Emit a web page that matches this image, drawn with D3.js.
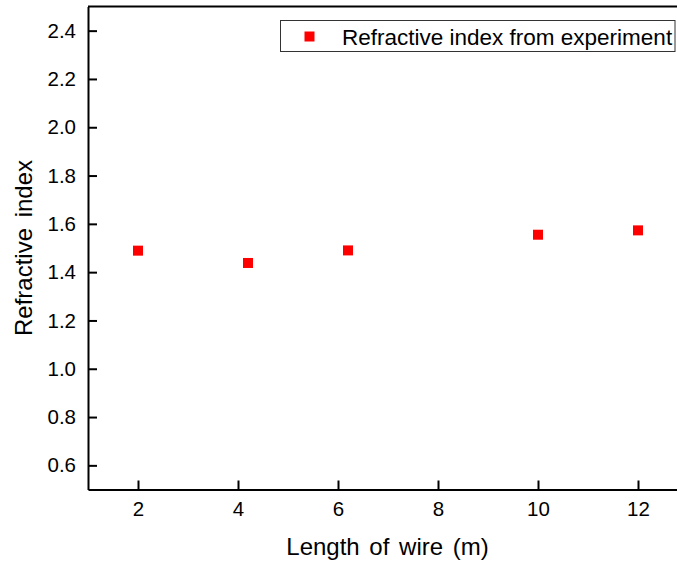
<!DOCTYPE html>
<html>
<head>
<meta charset="utf-8">
<script src="https://cdn.jsdelivr.net/npm/d3@7"></script>
<style>
  body { margin: 0; background: #fff; }
  text { font-family: "Liberation Sans", Arial, sans-serif; fill: #000; }
</style>
</head>
<body>
<div id="chart"></div>
<script>
// wire length (m) and the measured refractive index
const lengths = [2, 4.2, 6.2, 10, 12];
const indices = [1.489, 1.438, 1.490, 1.555, 1.573];
const xTicks = [2, 4, 6, 8, 10, 12];
const yTicks = [0.6, 0.8, 1.0, 1.2, 1.4, 1.6, 1.8, 2.0, 2.2, 2.4];
const legendLabel = 'Refractive index from experiment';

const width = 677;
const height = 565;
const plotLeft = 88, plotRight = 688, plotTop = 6.5, plotBottom = 489.5;

const x = d3.scaleLinear().domain([1, 13]).range([plotLeft, plotRight]);
const y = d3.scaleLinear().domain([0.5, 2.5]).range([plotBottom, plotTop]);

const svg = d3.select('#chart').append('svg')
  .attr('width', width)
  .attr('height', height);

// frame (top and right lines)
svg.append('line')
  .attr('x1', plotLeft).attr('x2', plotRight)
  .attr('y1', plotTop).attr('y2', plotTop)
  .attr('stroke', '#000').attr('stroke-width', 2);
svg.append('line')
  .attr('x1', plotRight).attr('x2', plotRight)
  .attr('y1', plotTop).attr('y2', plotBottom)
  .attr('stroke', '#000').attr('stroke-width', 2);

const xAxis = svg.append('g')
  .attr('transform', `translate(0,${plotBottom})`)
  .call(d3.axisBottom(x).tickValues(xTicks).tickSize(-9).tickPadding(12).tickSizeOuter(0));

const yAxis = svg.append('g')
  .attr('transform', `translate(${plotLeft},0)`)
  .call(d3.axisLeft(y).tickValues(yTicks).tickFormat(d3.format('.1f')).tickSize(-9).tickPadding(12).tickSizeOuter(0));

[xAxis, yAxis].forEach(g => {
  g.attr('font-size', 20.5).attr('font-family', null);
  g.select('.domain').attr('stroke', '#000').attr('stroke-width', 2);
  g.selectAll('.tick line').attr('stroke', '#000').attr('stroke-width', 2);
  g.selectAll('.tick text').attr('fill', '#000');
});

// data points
svg.selectAll('rect.pt')
  .data(lengths.map((d, i) => [d, indices[i]]))
  .enter().append('rect')
    .attr('class', 'pt')
    .attr('x', d => x(d[0]) - 5)
    .attr('y', d => y(d[1]) - 5)
    .attr('width', 10)
    .attr('height', 10)
    .attr('fill', '#ff0000');

// axis titles
svg.append('text')
  .attr('x', 387.5)
  .attr('y', 555)
  .attr('text-anchor', 'middle')
  .attr('font-size', 24)
  .style('word-spacing', '3px')
  .text('Length of wire (m)');

svg.append('text')
  .attr('transform', 'translate(32,248) rotate(-90)')
  .attr('text-anchor', 'middle')
  .attr('font-size', 24)
  .style('word-spacing', '4px')
  .text('Refractive index');

// legend
const legend = svg.append('g');
legend.append('rect')
  .attr('x', 280.5).attr('y', 20.5)
  .attr('width', 394.5).attr('height', 31)
  .attr('fill', '#fff')
  .attr('stroke', '#333').attr('stroke-width', 1);
legend.append('rect')
  .attr('x', 304.5).attr('y', 31.5)
  .attr('width', 10).attr('height', 10)
  .attr('fill', '#ff0000');
legend.append('text')
  .attr('x', 342)
  .attr('y', 44.5)
  .attr('font-size', 22.5)
  .text(legendLabel);
</script>
</body>
</html>
